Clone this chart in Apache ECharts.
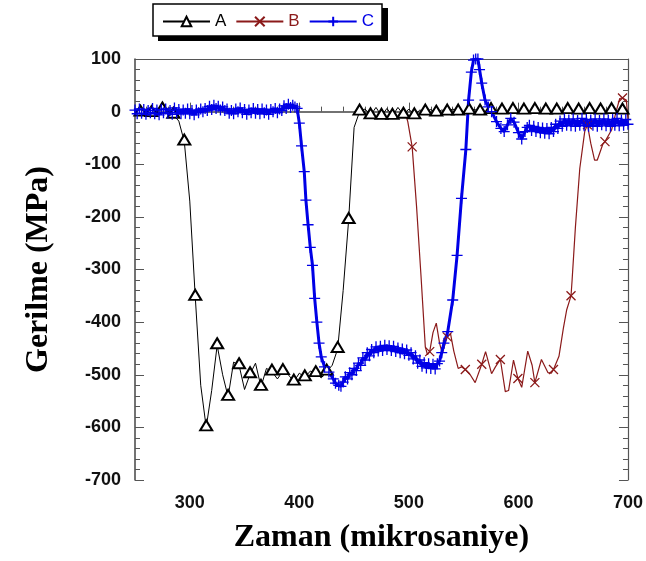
<!DOCTYPE html>
<html lang="tr">
<head>
<meta charset="UTF-8" />
<script src="https://cdn.jsdelivr.net/npm/echarts@6/dist/echarts.min.js"></script>
<style>
  html, body { margin: 0; padding: 0; background: #fff; }
  #main { width: 646px; height: 561px; }
</style>
</head>
<body>
<div id="main"></div>
<script>
// --- data ---
// A (black, triangles): markers on every x ending in 5
var aX = [250,255,260,265,270,275,280,285,290,295,300,305,310,315,320,325,330,335,340,345,
          350,355,360,365,370,375,380,385,390,395,400,405,410,415,420,425,430,435,440,445,
          450,455,460,465,470,475,480,485,490,495,500,505,510,515,520,525,530,535,540,545,
          550,555,560,565,570,575,580,585,590,595,600,605,610,615,620,625,630,635,640,645,
          650,655,660,665,670,675,680,685,690,695,700];
var aY = [2,-2,3,-3,2,4,-2,-6,-18,-57,-170,-352,-520,-600,-530,-444,-500,-542,-476,-482,
          -528,-499,-478,-523,-488,-494,-508,-493,-500,-513,-497,-505,-493,-497,-506,-494,-482,-451,-340,-206,
          -30,0,5,-7,8,-8,6,-8,8,-6,5,-7,3,0,4,-2,3,0,5,0,
          -3,2,4,0,-3,3,0,2,-3,3,0,2,-2,3,0,2,-3,2,0,3,
          -2,2,0,3,-2,2,0,3,-2,2,0];

// B (dark red, crosses)
var bX = [497,499,503,507,511,515,517,519,522,525,528,530.5,535,538,541,545,548,551.5,556,560.5,
          566.5,570,575.5,579,583.5,588,591,595.5,599.5,603,608.5,612.5,615,621,627,630,632,637,641,644,
          645.5,648,649,652,656,660.5,663,666,669.5,672,677,679,685,689.5,692.5,695,698.5,700];
var bY = [-5,-19,-67,-180,-310,-447,-462,-456,-420,-402,-440,-460,-428,-422,-455,-488,-485,-490,-500,-515,
          -480,-456,-498,-485,-471,-532,-530,-472,-507,-524,-455,-482,-515,-471,-496,-497,-490,-465,-412,-377,
          -376,-350,-320,-220,-108,-38,-25,-60,-92,-92,-62,-57,-35,3,25,26,22,-16];
var bMarks = [503,519,535,551.5,566.5,583.5,599.5,615,632,648,663,679,695];

// C (blue, plus sign on every sample), [time, stress]
var cPts = [
  [250,3],[252,-4],[254,5],[256,-3],[258,4],[260,-5],[262,2],[264,-2],[266,6],[268,-4],
  [270,3],[272,-6],[274,4],[276,-2],[278,5],[280,-3],[282,2],[284,-5],[286,7],[288,-2],
  [290,4],[292,-4],[294,3],[296,-3],[298,5],[300,-4],[302,2],[304,-6],[306,3],[308,-2],
  [310,5],[312,0],[314,6],[316,2],[318,10],[320,4],[322,12],[324,6],[326,10],[328,3],
  [330,9],[332,2],[334,5],[336,-3],[338,2],[340,-4],[342,5],[344,0],[346,7],[348,-2],
  [350,4],[352,-5],[354,3],[356,-2],[358,6],[360,-3],[362,4],[364,-4],[366,5],[368,-2],
  [370,3],[372,-5],[374,4],[376,0],[378,6],[380,-2],[382,5],[384,2],[386,11],[388,6],
  [390,14],[392,8],[394,12],[396,9],[398,6],
  [400,-22],[402,-65],[404.5,-114],[406,-168],[408,-215],[410,-258],[412,-292],[414,-355],
  [416,-400],[418,-440],[420,-466],[423,-485],[427,-495],[431,-508],[433,-516],[436,-520],[438,-522],
  [440,-514],[442,-504],[444,-508],[446,-496],[448,-500],[450,-488],[452,-492],[454,-478],[456,-482],[458,-468],
  [460,-472],[462,-458],[464,-464],[466,-452],[468,-458],[470,-447],[472,-455],[474,-446],[476,-454],[478,-444],
  [480,-452],[482,-445],[484,-454],[486,-446],[488,-456],[490,-449],[492,-458],[494,-451],[496,-460],[498,-453],
  [500,-463],[502,-458],[504,-470],[506,-464],[508,-478],[510,-472],[512,-484],[514,-477],[516,-487],[518,-479],
  [520,-488],[522,-480],[524,-489],[526,-479],[528,-474],[530,-458],[532,-440],
  [535.5,-418],[540,-358],[544,-273],[548,-165],[552,-72],[554.5,22],[557,75],[559,98],[561,100],[563,100],
  [564.5,80],[566.5,54],[569.5,22],[572.5,9],[575.5,0],[580,-19],[584,-32],[587,-38],[590,-25],[593,-13],
  [596,-20],[600,-40],[603,-52],[606,-38],[608,-30],
  [610,-26],[612,-36],[614,-28],[616,-38],[618,-30],[620,-40],[622,-31],[624,-41],[626,-32],[628,-42],
  [630,-30],[632,-38],[634,-24],[636,-32],[638,-18],[640,-28],[642,-14],[644,-26],[646,-16],[648,-27],
  [650,-14],[652,-28],[654,-17],[656,-26],[658,-13],[660,-27],[662,-15],[664,-28],[666,-16],[668,-26],
  [670,-14],[672,-28],[674,-17],[676,-25],[678,-14],[680,-27],[682,-16],[684,-28],[686,-15],[688,-26],
  [690,-13],[692,-27],[694,-16],[696,-26],[698,-15],[700,-24]
];

// axis ticks
var xMajor = [300, 400, 500, 600, 700];
var xMinor = [];
for (var t = 260; t <= 700; t += 20) { if (t % 100 !== 0) xMinor.push(t); }

var colA = '#000000', colB = '#8b1a1a', colC = '#0000e6';

var dataA = aX.map(function (x, i) {
  return (x - 250) % 10 === 5 ? [x, aY[i]] : { value: [x, aY[i]], symbol: 'none' };
});
var dataB = bX.map(function (x, i) {
  return bMarks.indexOf(x) >= 0 ? [x, bY[i]] : { value: [x, bY[i]], symbol: 'none' };
});

var chart = echarts.init(document.getElementById('main'));

var tickLabel = { fontFamily: 'Liberation Sans', fontWeight: 'bold', fontSize: 18, color: '#111' };
var titleFont = { fontFamily: 'Liberation Serif', fontWeight: 'bold', fontSize: 32, color: '#000' };

chart.setOption({
  animation: false,
  backgroundColor: '#fff',
  grid: { left: 135, top: 59, width: 496, height: 421 },
  graphic: [
    { type: 'rect', z: 1, shape: { x: 158, y: 8, width: 230, height: 33 }, style: { fill: '#000' } },
    { type: 'rect', z: 2, shape: { x: 153, y: 4, width: 229, height: 32 },
      style: { fill: '#fff', stroke: '#000', lineWidth: 1.5 } }
  ],
  legend: {
    z: 10,
    left: 162, top: 13, padding: 0,
    itemWidth: 47, itemHeight: 12, itemGap: 9,
    textStyle: { fontFamily: 'Liberation Sans', fontSize: 17 },
    data: [
      { name: 'A', textStyle: { color: colA } },
      { name: 'B', textStyle: { color: colB } },
      { name: 'C', textStyle: { color: colC } }
    ]
  },
  xAxis: [
    {
      type: 'value', min: 250, max: 700, position: 'bottom',
      name: 'Zaman (mikrosaniye)', nameLocation: 'middle', nameGap: 42,
      nameTextStyle: titleFont,
      axisLine: { lineStyle: { color: '#444', width: 1.5 } },
      axisTick: { inside: true, length: 9, customValues: xMajor, lineStyle: { color: '#555' } },
      axisLabel: { customValues: xMajor, margin: 14, ...tickLabel },
      splitLine: { show: false }
    },
    {
      type: 'value', min: 250, max: 700, position: 'bottom',
      axisLine: { show: false },
      axisTick: { inside: true, length: 5, customValues: xMinor, lineStyle: { color: '#555' } },
      axisLabel: { show: false },
      splitLine: { show: false }
    },
    {
      type: 'value', min: 250, max: 700, position: 'top',
      axisLine: { lineStyle: { color: '#555', width: 1.2 } },
      axisTick: { show: false }, axisLabel: { show: false }, splitLine: { show: false }
    }
  ],
  yAxis: [
    {
      type: 'value', min: -700, max: 100, interval: 100, position: 'left',
      name: 'Gerilme (MPa)', nameLocation: 'middle', nameGap: 80,
      nameTextStyle: titleFont,
      axisLine: { show: true, lineStyle: { color: '#444', width: 1.5 } },
      axisTick: { inside: true, length: 9, lineStyle: { color: '#555' } },
      minorTick: { show: true, splitNumber: 5, length: 5, lineStyle: { color: '#555' } },
      axisLabel: { margin: 14, ...tickLabel },
      splitLine: { show: false }, minorSplitLine: { show: false }
    },
    {
      type: 'value', min: -700, max: 100, interval: 100, position: 'right',
      axisLine: { show: true, lineStyle: { color: '#555', width: 1.2 } },
      axisTick: { inside: true, length: 9, lineStyle: { color: '#555' } },
      minorTick: { show: true, splitNumber: 5, length: 5, lineStyle: { color: '#555' } },
      axisLabel: { show: false },
      splitLine: { show: false }, minorSplitLine: { show: false }
    }
  ],
  series: [
    {
      name: 'A', type: 'line', data: dataA,
      symbol: 'emptyTriangle', symbolSize: [12, 10], symbolOffset: [0, -2], showAllSymbol: true,
      lineStyle: { color: colA, width: 1 },
      itemStyle: { color: colA, borderColor: colA, borderWidth: 1 }
    },
    {
      name: 'B', type: 'line', data: dataB,
      symbol: 'path://M0,0L10,10M10,0L0,10', symbolSize: 9, showAllSymbol: true,
      lineStyle: { color: colB, width: 1.2 },
      itemStyle: { color: colB, borderColor: colB, borderWidth: 1.3 }
    },
    {
      name: 'C', type: 'line', data: cPts,
      symbol: 'path://M0,5L10,5M5,0L5,10', symbolSize: 11, showAllSymbol: true,
      lineStyle: { color: colC, width: 3 },
      itemStyle: { color: colC, borderColor: colC, borderWidth: 1.3 }
    }
  ]
});
</script>
</body>
</html>
